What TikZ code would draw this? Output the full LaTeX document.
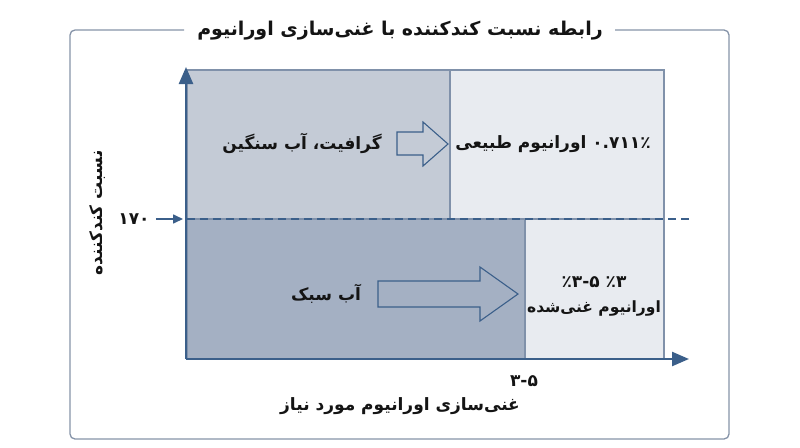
\documentclass[tikz,border=0pt]{standalone}
\usepackage{fontspec}
\newfontfamily\fa[Script=Arabic]{DejaVu Sans}
\TeXXeTstate=1
\usetikzlibrary{arrows.meta}
\definecolor{framecol}{HTML}{8593A8}
\definecolor{axiscol}{HTML}{3B5F8A}
\definecolor{bordcol}{HTML}{8091AA}
\definecolor{updark}{HTML}{C4CBD6}
\definecolor{lowdark}{HTML}{A4B0C3}
\definecolor{lightcell}{HTML}{E8EBF0}
\definecolor{txtcol}{HTML}{141414}
\tikzset{
  cell/.style={fill=#1, draw=bordcol, line width=1.2pt},
  axisline/.style={draw=axiscol, line width=2.4pt, -{Triangle[length=17pt,width=14pt]}},
  lbl/.style={text=txtcol, font=\fa\bfseries\fontsize{17}{22}\selectfont, inner sep=0pt, align=center},
  blockarrow/.style={draw=axiscol, line width=1.1pt, line join=miter},
}
\begin{document}
\begin{tikzpicture}[x=1pt,y=-1pt]
\useasboundingbox (0,0) rectangle (800,447);
% frame
\draw[framecol, line width=1.3pt, rounded corners=5pt] (184,30) -- (70,30) -- (70,439) -- (729,439) -- (729,30) -- (615,30);
\node[lbl, font=\fa\bfseries\fontsize{19}{24}\selectfont] (title) at (400,31) {\beginR رابطه نسبت کندکننده با غنی‌سازی اورانیوم\endR};
% cells
\path[cell=updark] (187,70) rectangle (450,219);
\path[cell=lightcell] (450,70) rectangle (664,219);
\path[cell=lowdark] (187,219) rectangle (525,359);
\path[cell=lightcell] (525,219) rectangle (664,359);
% dashed threshold
\coordinate (dA) at (187,219);
\coordinate (dB) at (691,219);
\draw[axiscol, line width=1.6pt, dash pattern=on 8pt off 5pt] (dA) -- (dB);
% axes
\coordinate (O) at (186,359);
\coordinate (Ytop) at (186,67);
\coordinate (Xend) at (689,359);
\draw[axisline] (O) -- (Ytop);
\draw[axisline] (O) -- (Xend);
% block arrows
\draw[blockarrow] (397,132) -- (423,132) -- (423,122) -- (448,144) -- (423,166) -- (423,155) -- (397,155) -- cycle;
\draw[blockarrow] (378,281) -- (480,281) -- (480,267) -- (518,294) -- (480,321) -- (480,307) -- (378,307) -- cycle;
% labels
\node[lbl] (heavy) at (302,143) {\beginR گرافیت، آب سنگین\endR};
\node[lbl] (natural) at (553,144) {\beginR \beginL ۰.۷۱۱٪\endL{} اورانیوم طبیعی\endR};
\node[lbl] (light) at (326,294) {\beginR آب سبک\endR};
\node[lbl] (enrich) at (594,296) {\beginR ٪۳ ٪۳-۵\endR\\[3pt]{\fontsize{15.5}{20}\selectfont\beginR اورانیوم غنی‌شده\endR}};
% axis labels
\node[lbl] (yval) at (134,219) {\beginL ۱۷۰\endL};
\coordinate (yarrowEnd) at (183,219);
\draw[axiscol, line width=1.6pt, -{Triangle[length=10pt,width=9pt]}] (yval.east) ++(6pt,0) -- (yarrowEnd);
\node[lbl] (xval) at (524,381) {\beginL ۳-۵\endL};
\node[lbl] (xlab) at (400,406) {\beginR غنی‌سازی اورانیوم مورد نیاز\endR};
\node[lbl, rotate=90] (ylab) at (98,213) {\beginR نسبت کندکننده\endR};
\end{tikzpicture}
\end{document}
